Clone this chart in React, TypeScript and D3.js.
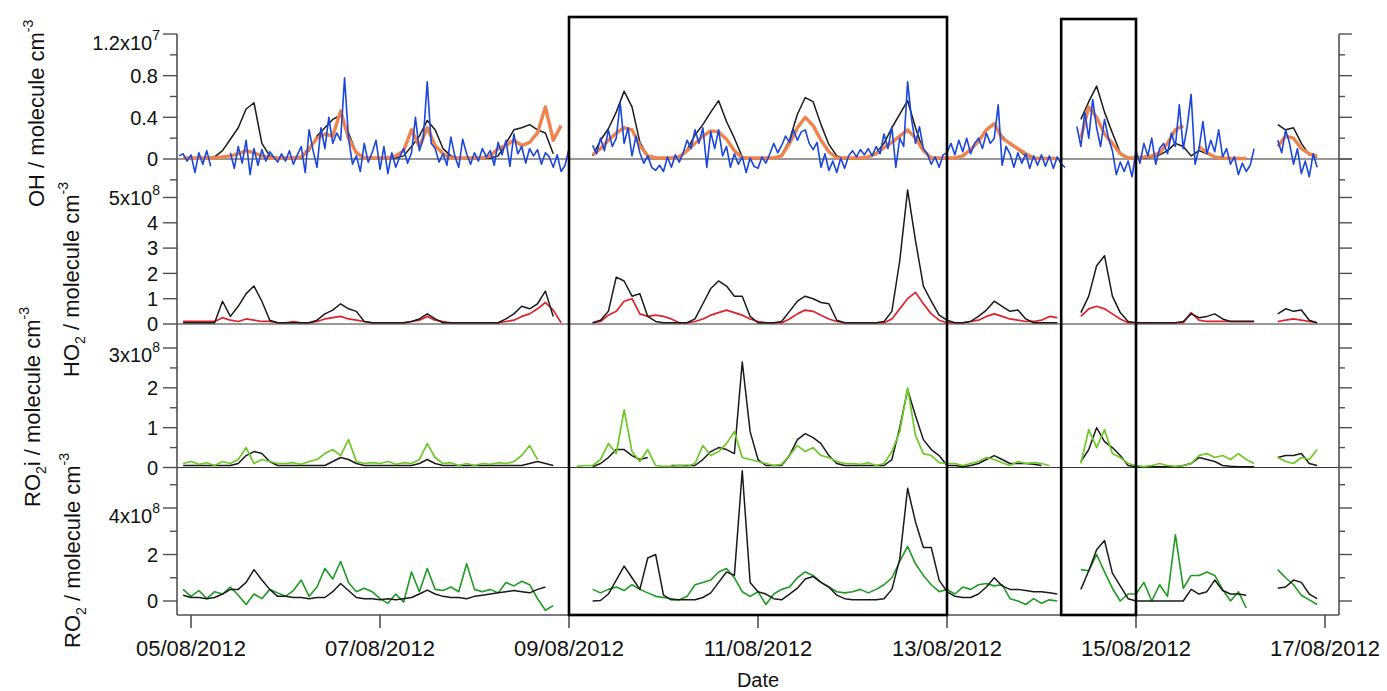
import * as d3 from "d3";

type Pt = { t: Date; v: number | null };

const HOUR = 3600 * 1000;
// first sample of the 2-hourly series and of the hourly blue OH series
const START_2H = Date.UTC(2012, 7, 4, 22);
const START_1H = Date.UTC(2012, 7, 4, 21);

const X_TICK_LABELS = ["05/08/2012", "07/08/2012", "09/08/2012", "11/08/2012", "13/08/2012", "15/08/2012", "17/08/2012"];
const BOX_SPANS = [
  ["09/08/2012 00:00", "13/08/2012 00:00"],
  ["14/08/2012 05:00", "15/08/2012 00:00"],
];

// OH, units of 1e6 molecule cm-3 (axis shows x10^7)
const OH_TICKS = [0, 4, 8, 12];
const OH_TICK_LABELS = ["0", "0.4", "0.8", "1.2"];
const OH_MINOR = [-2, 2, 6, 10];
const HO2_TICKS = [0, 1, 2, 3, 4, 5];
const HO2_TICK_LABELS = ["0", "1", "2", "3", "4", "5"];
const RO2I_TICKS = [0, 1, 2, 3];
const RO2I_TICK_LABELS = ["0", "1", "2", "3"];
const RO2I_MINOR = [0.5, 1.5, 2.5];
const RO2_TICKS = [0, 2, 4];
const RO2_TICK_LABELS = ["0", "2", "4"];
const RO2_MINOR = [1, 3, 5];

// 2-hourly, one row per day (05/08 ... 16/08)
const OH_BLACK = [
  0.1,
  0.1, 0.1, 0.1, 0.2, 0.8, 1.9, 3.0, 4.8, 5.4, 1.5, 0.3, 0.1,
  0.05, 0.05, 0.1, 0.8, 2.2, 3.0, 3.8, 4.2, 2.5, 0.6, 0.1, 0.05,
  0.05, 0.05, 0.1, 0.3, 1.2, 2.2, 3.7, 2.8, 1.0, 0.3, 0.1, 0.05,
  0.05, 0.05, 0.1, 0.3, 1.5, 2.8, 3.0, 3.3, 2.8, 2.5, 0.5, null,
  null, null, null, 0.3, 1.8, 2.9, 4.5, 6.5, 5.0, 1.6, 0.3, 0.1,
  0.05, 0.05, 0.2, 0.9, 2.3, 3.3, 4.5, 5.6, 3.6, 2.0, 0.2, 0.05,
  0.05, 0.05, 0.1, 0.4, 1.8, 4.3, 5.9, 5.5, 3.3, 1.4, 0.3, 0.05,
  0.05, 0.05, 0.2, 0.6, 1.5, 3.0, 4.3, 5.6, 3.0, 0.8, 0.1, 0.05,
  0.05, 0.1, 0.3, 0.9, 1.8, 2.8, 3.4, 2.2, 1.4, 0.9, 0.3, 0.1,
  0.05, 0.05, 0.05, null, null, 3.8, 5.5, 7.0, 4.5, 2.5, 0.6, 0.1,
  0.1, 0.1, 0.2, 0.4, 0.8, 1.5, 1.2, 0.3, 0.8, 0.5, 0.2, 0.1,
  0.1, 0.05, 0.05, null, null, null, 3.3, 2.8, 3.0, 1.5, 0.4, 0.2,
];
const OH_ORANGE = [
  0.1,
  0.1, 0.1, 0.1, 0.1, 0.2, 0.3, 0.5, 0.8, 0.6, 0.3, 0.1, 0.1,
  0.1, 0.1, 0.2, 1.0, 2.0, 2.4, 2.2, 4.6, 2.0, 0.6, 0.1, 0.1,
  0.1, 0.1, 0.3, 0.8, 2.8, 1.2, 3.0, 1.3, 0.5, 0.1, 0.1, 0.1,
  0.1, 0.1, 0.3, 1.0, 1.3, 1.8, 1.3, 1.6, 2.5, 5.0, 1.8, 3.2,
  null, null, null, 0.4, 1.0, 1.8, 2.5, 3.0, 2.8, 1.3, 0.3, 0.1,
  0.1, 0.1, 0.2, 0.8, 1.5, 2.2, 2.7, 2.6, 1.9, 0.8, 0.1, 0.1,
  0.1, 0.1, 0.1, 0.3, 1.5, 3.0, 4.0, 3.2, 1.8, 0.7, 0.1, 0.1,
  0.1, 0.1, 0.2, 0.5, 1.1, 1.6, 2.2, 2.8, 2.0, 0.8, 0.1, 0.1,
  0.1, 0.1, 0.3, 0.9, 1.7, 2.8, 3.4, 2.0, 1.5, 1.0, 0.5, 0.1,
  0.05, 0.05, 0.05, null, null, 2.0, 5.0, 4.0, 2.4, 1.5, 0.5, 0.1,
  0.1, 0.2, 0.3, 0.6, 1.5, 2.8, 3.2, null, 1.2, 0.6, 0.2, 0.1,
  0.05, 0.05, 0.05, null, null, null, 1.2, 2.2, 2.0, 1.0, 0.5, 0.3,
];
// hourly, starting 04/08 21:00
const OH_BLUE = [
  0.3, 0.5, -0.2,
  0.4, -1.3, 0.6, -0.5, 0.8, -0.7, null, null, null, null, 0.6, -0.9, 1.2, -0.4, 1.8, -1.5, 1.0, -0.6, 0.9, -0.2, 0.7, 0.2, -0.3, 0.5,
  -0.2, 0.8, -0.5, 0.4, 1.2, -1.3, 2.8, 0.8, -0.8, 3.0, 1.0, 4.0, 1.5, 2.5, 1.8, 7.8, 2.0, -0.5, 0.3, -1.2, 1.5, -0.3, 0.6, 1.8,
  -1.0, 1.2, -1.4, 0.6, -0.8, 0.2, 1.0, -0.4, 0.6, 4.0, 0.8, 2.0, 7.4, 1.5, 1.0, -0.3, 0.5, -0.6, 2.1, 0.3, -0.8, 1.9, 0.5, -0.5,
  0.6, -0.2, 1.0, 0.2, 0.8, -0.6, 1.6, 0.4, 1.8, -0.7, 2.4, 0.5, 1.2, -0.4, 1.0, 0.3, 0.9, -0.5, 0.6, 0.2, -0.8, 0.4, -1.2, -0.6,
  1.0, null, null, null, null, null, 1.3, 0.5, 2.0, 0.8, 2.8, 1.2, 2.0, 5.4, 1.5, 3.0, 0.3, 2.2, 0.6, -0.4, 0.3, -0.8, -1.1, -0.6,
  -1.2, 0.2, -0.8, 0.4, -0.3, 0.6, 1.8, 1.0, 2.8, 1.5, 3.0, -0.8, 2.6, 1.0, 2.8, 0.3, 1.2, -0.8, 0.5, -0.5, 0.2, -1.3, 0.1, -0.7,
  -0.9, 0.2, -0.4, 0.5, 1.5, 0.6, 1.3, 2.2, 1.6, 2.8, 1.8, 2.6, 2.8, 1.5, 0.9, 1.6, -0.8, 0.5, -1.1, -0.2, -1.3, 0.1, -0.9, 0.3,
  0.8, 0.2, 0.9, 0.4, 1.0, 0.3, 1.2, 0.5, 2.4, 1.0, 3.1, -0.8, 2.0, 1.2, 7.4, 3.8, 1.5, 3.1, 1.0, 0.5, -0.5, 0.2, -0.8, 0.4,
  0.6, 1.5, 0.4, 1.8, 0.7, 2.0, 0.5, 1.5, 2.0, 1.0, 2.5, 1.5, 2.0, 5.2, -0.6, 1.2, 0.5, -0.8, 0.6, -0.4, 0.5, -0.9, 0.3, -0.6,
  0.4, -0.7, 0.3, -0.9, 0.2, -0.5, -0.8, null, null, 3.1, 1.2, 4.5, 2.0, 5.7, 3.0, 1.2, 3.8, 2.0, 0.8, -1.5, -0.3, -1.2, -0.2, -1.7,
  0.8, -0.4, 1.5, 0.3, 2.0, -0.5, 1.0, 1.5, 0.5, 2.5, 1.2, 5.2, 1.0, 3.1, 6.2, -0.5, 1.0, 3.6, 0.5, 1.8, 0.7, 2.8, 0.2, 1.0,
  -0.5, 0.2, -1.5, -0.4, -1.2, -0.6, 1.0, null, null, null, null, null, 1.8, 0.6, 2.8, 1.5, -0.5, 1.0, -1.4, -0.2, -1.7, 0.5, -0.8,
];

// HO2, units of 1e8
const HO2_BLACK = [
  0.05,
  0.05, 0.05, 0.05, 0.05, 0.9, 0.3, 0.7, 1.2, 1.5, 0.9, 0.15, 0.05,
  0.05, 0.05, 0.05, 0.05, 0.15, 0.4, 0.55, 0.8, 0.6, 0.5, 0.1, 0.05,
  0.05, 0.05, 0.05, 0.05, 0.1, 0.2, 0.4, 0.2, 0.05, 0.05, 0.05, 0.05,
  0.05, 0.05, 0.05, 0.05, 0.2, 0.4, 0.7, 0.6, 0.8, 1.3, 0.3, null,
  null, null, null, 0.05, 0.15, 0.5, 1.85, 1.7, 1.1, 1.2, 0.3, 0.1,
  0.05, 0.05, 0.05, 0.05, 0.2, 0.8, 1.4, 1.7, 1.5, 1.1, 1.1, 0.3,
  0.05, 0.05, 0.05, 0.1, 0.5, 0.9, 1.1, 1.0, 0.85, 0.8, 0.15, 0.05,
  0.05, 0.05, 0.05, 0.05, 0.1, 0.5, 2.5, 5.3, 3.3, 1.5, 0.9, 0.35,
  0.15, 0.05, 0.05, 0.1, 0.3, 0.55, 0.9, 0.7, 0.5, 0.55, 0.2, 0.05,
  0.05, 0.05, 0.05, null, null, 0.45, 1.1, 2.3, 2.7, 1.1, 0.45, 0.1,
  0.05, 0.05, 0.05, 0.05, 0.05, 0.05, 0.1, 0.4, 0.25, 0.3, 0.4, 0.2,
  0.1, 0.1, 0.1, 0.1, null, null, 0.4, 0.6, 0.5, 0.55, 0.15, 0.05,
];
const HO2_RED = [
  0.1,
  0.1, 0.1, 0.1, 0.1, 0.25, 0.15, 0.1, 0.2, 0.15, 0.1, 0.1, 0.05,
  0.05, 0.1, 0.05, 0.05, 0.1, 0.2, 0.25, 0.3, 0.2, 0.15, 0.1, 0.05,
  0.05, 0.05, 0.05, 0.05, 0.1, 0.15, 0.3, 0.15, 0.1, 0.05, 0.05, 0.05,
  0.05, 0.05, 0.05, 0.05, 0.1, 0.15, 0.3, 0.4, 0.6, 0.85, 0.55, 0.05,
  null, null, null, 0.05, 0.1, 0.35, 0.5, 0.9, 1.0, 0.4, 0.3, 0.35,
  0.3, 0.2, 0.05, 0.05, 0.1, 0.2, 0.35, 0.45, 0.55, 0.45, 0.35, 0.2,
  0.1, 0.05, 0.05, 0.05, 0.2, 0.4, 0.55, 0.5, 0.35, 0.2, 0.1, 0.05,
  0.05, 0.05, 0.05, 0.05, 0.05, 0.2, 0.6, 1.0, 1.25, 0.8, 0.4, 0.15,
  0.05, 0.05, 0.05, 0.1, 0.15, 0.3, 0.4, 0.3, 0.2, 0.15, 0.1, 0.1,
  0.15, 0.3, 0.25, null, null, 0.3, 0.6, 0.7, 0.6, 0.4, 0.2, 0.05,
  0.05, 0.05, 0.05, 0.05, 0.05, 0.05, 0.05, 0.45, 0.15, 0.1, 0.1, 0.1,
  0.1, 0.1, 0.1, 0.1, null, null, 0.1, 0.15, 0.2, 0.15, 0.1, 0.05,
];

// RO2i, units of 1e8
const RO2I_BLACK = [
  0.05,
  0.05, 0.05, 0.05, 0.05, 0.05, 0.05, 0.1, 0.3, 0.4, 0.35, 0.15, 0.05,
  0.05, 0.05, 0.05, 0.05, 0.05, 0.05, 0.15, 0.25, 0.2, 0.1, 0.05, 0.05,
  0.05, 0.05, 0.05, 0.05, 0.05, 0.1, 0.2, 0.1, 0.05, 0.05, 0.05, 0.05,
  0.05, 0.05, 0.05, 0.05, 0.05, 0.05, 0.05, 0.1, 0.15, 0.1, 0.05, null,
  null, null, null, 0.02, 0.1, 0.25, 0.45, 0.45, 0.3, 0.2, 0.25, null,
  null, 0.05, 0.05, 0.05, 0.05, 0.2, 0.4, 0.5, 0.45, 0.35, 2.65, 0.9,
  0.2, 0.05, 0.05, 0.05, 0.3, 0.7, 0.85, 0.75, 0.6, 0.3, 0.1, 0.05,
  0.05, 0.05, 0.05, 0.05, 0.05, 0.2, 1.0, 1.95, 1.3, 0.7, 0.45, 0.3,
  0.05, 0.05, 0.02, 0.05, 0.1, 0.2, 0.3, 0.2, 0.1, 0.1, 0.1, 0.08,
  0.05, null, null, null, null, 0.15, 0.45, 1.0, 0.65, 0.5, 0.3, 0.05,
  0.02, 0.02, 0.02, 0.02, 0.02, 0.02, 0.05, 0.1, 0.25, 0.2, 0.15, 0.05,
  0.03, 0.02, 0.02, 0.02, null, null, 0.25, 0.3, 0.3, 0.35, 0.1, 0.05,
];
const RO2I_GREEN = [
  0.1,
  0.15, 0.08, 0.12, 0.05, 0.15, 0.1, 0.2, 0.5, 0.1, 0.2, 0.15, 0.1,
  0.1, 0.12, 0.08, 0.15, 0.2, 0.35, 0.45, 0.3, 0.7, 0.15, 0.1, 0.12,
  0.1, 0.15, 0.08, 0.12, 0.1, 0.2, 0.6, 0.25, 0.1, 0.12, 0.05, 0.1,
  0.05, 0.1, 0.08, 0.12, 0.1, 0.15, 0.3, 0.55, 0.2, null, null, null,
  null, 0.03, 0.05, 0.05, 0.2, 0.6, 0.35, 1.45, 0.4, 0.15, 0.45, 0.05,
  0.03, 0.03, 0.05, 0.03, 0.1, 0.55, 0.3, 0.4, 0.6, 0.9, 0.25, 0.2,
  0.15, 0.1, 0.05, 0.08, 0.3, 0.55, 0.4, 0.5, 0.3, 0.25, 0.15, 0.1,
  0.1, 0.08, 0.12, 0.05, 0.1, 0.4, 0.9, 2.0, 0.8, 0.35, 0.3, 0.12,
  0.1, 0.1, 0.05, 0.1, 0.15, 0.25, 0.2, 0.12, 0.05, 0.15, 0.1, 0.12,
  0.1, 0.05, null, null, null, 0.1, 0.95, 0.5, 0.95, 0.35, 0.25, 0.1,
  0.05, 0.02, 0.05, 0.1, 0.05, 0.03, 0.05, 0.1, 0.3, 0.35, 0.25, 0.3,
  0.2, 0.35, 0.2, 0.1, null, null, 0.25, 0.15, 0.1, 0.25, 0.2, 0.45,
];

// RO2, units of 1e8
const RO2_BLACK = [
  0.25,
  0.15, 0.15, 0.1, 0.15, 0.3, 0.5, 0.5, 0.8, 1.35, 0.9, 0.5, 0.2,
  0.2, 0.15, 0.15, 0.1, 0.15, 0.15, 0.4, 0.75, 0.45, 0.15, 0.1, 0.1,
  0.05, 0.1, 0.05, 0.1, 0.15, 0.3, 0.47, 0.3, 0.2, 0.15, 0.15, 0.1,
  0.2, 0.25, 0.3, 0.35, 0.4, 0.45, 0.4, 0.35, 0.5, 0.6, null, null,
  null, null, null, 0.0, 0.02, 0.3, 0.9, 1.5, 1.0, 0.5, 1.85, 2.0,
  0.25, 0.05, 0.05, 0.05, 0.05, 0.15, 0.35, 0.8, 1.25, 1.1, 5.6, 0.8,
  0.4, 0.3, 0.1, 0.05, 0.3, 0.55, 0.95, 1.05, 0.8, 0.6, 0.25, 0.1,
  0.05, 0.05, 0.05, 0.05, 0.1, 0.5, 1.8, 4.85, 3.4, 2.3, 2.3, 0.9,
  0.4, 0.2, 0.15, 0.15, 0.3, 0.6, 1.0, 0.65, 0.5, 0.5, 0.45, 0.4,
  0.4, 0.35, 0.3, null, null, 0.5, 1.3, 2.2, 2.6, 1.2, 0.65, 0.1,
  0.0, 0.0, 0.0, 0.0, 0.0, 0.0, 0.0, 0.5, 0.3, 0.4, 0.9, 0.45,
  0.3, 0.3, 0.25, null, null, null, 0.55, 0.6, 0.9, 0.8, 0.3, 0.1,
];
const RO2_GREEN = [
  0.5,
  0.2, 0.45, 0.1, 0.4, 0.3, 0.6, 0.25, -0.15, 0.3, 0.1, 0.5, 0.35,
  0.2, 0.45, 0.9, 0.2, 0.6, 1.4, 0.95, 1.7, 0.8, 0.4, 0.55, 0.4,
  0.1, -0.1, 0.3, -0.05, 1.25, 0.4, 1.4, 0.5, 0.45, 0.6, 0.4, 1.6,
  0.5, 0.4, 0.5, 0.35, 0.8, 0.65, 0.85, 0.7, 0.1, -0.4, -0.2, null,
  null, null, null, 0.5, 0.35, 0.5, 0.6, 0.45, 0.7, 0.5, 0.35, 0.2,
  0.15, 0.1, 0.05, 0.2, 0.7, 0.8, 0.9, 1.25, 1.4, 1.0, 0.4, 0.2,
  0.4, -0.15, 0.3, 0.5, 0.6, 1.0, 1.25, 1.1, 0.8, 0.6, 0.4, 0.35,
  0.4, 0.5, 0.35, 0.5, 0.7, 1.0, 1.7, 2.35, 1.6, 1.1, 0.7, 0.4,
  0.5, 0.3, 0.6, 0.5, 0.7, 0.75, 0.65, 0.7, 0.1, 0.0, -0.15, 0.1,
  -0.1, 0.05, 0.0, null, null, 1.35, 1.3, 2.0, 1.25, 0.55, 0.0, 0.3,
  0.3, 0.8, 0.0, 0.7, 0.2, 2.85, 0.55, 1.1, 1.1, 1.25, 1.1, 0.5,
  0.0, 0.4, -0.3, null, null, null, 1.35, 1.0, 0.7, 0.25, 0.05, -0.15,
];

const toPoints = (vals: (number | null)[], start: number, stepH: number): Pt[] =>
  vals.map((v, i) => ({ t: new Date(start + i * stepH * HOUR), v }));

const FONT = "'Liberation Sans', Arial, Helvetica, sans-serif";
const AXIS = "#505050";
const LEFT = 177;
const RIGHT = 1339;
const BOTTOM = 615;

const parseDay = d3.utcParse("%d/%m/%Y");
const parseTime = d3.utcParse("%d/%m/%Y %H:%M");

export default function App() {
  const tickDates = X_TICK_LABELS.map((s) => parseDay(s) as Date);
  const x = d3.scaleUtc().domain([tickDates[0], tickDates[tickDates.length - 1]]).range([191, 1325]);

  const yOH = d3.scaleLinear().domain([0, 12]).range([159, 34]);
  const yHO2 = d3.scaleLinear().domain([0, 5]).range([324, 197.5]);
  const yRI = d3.scaleLinear().domain([0, 3]).range([467.5, 348]);
  const yRO2 = d3.scaleLinear().domain([0, 4]).range([601, 508]);

  const path = (vals: (number | null)[], y: d3.ScaleLinear<number, number>, start = START_2H, step = 2) =>
    d3
      .line<Pt>()
      .defined((p) => p.v != null)
      .x((p) => x(p.t))
      .y((p) => y(p.v as number))(toPoints(vals, start, step)) || "";

  // topShift: the exponent label sits a little below its tick, as in the original
  const panels = [
    { y: yOH, ticks: OH_TICKS, labels: OH_TICK_LABELS, minor: OH_MINOR, exp: "7", zero: true, topShift: 9 },
    { y: yHO2, ticks: HO2_TICKS, labels: HO2_TICK_LABELS, minor: [] as number[], exp: "8", zero: true, topShift: 0 },
    { y: yRI, ticks: RO2I_TICKS, labels: RO2I_TICK_LABELS, minor: RO2I_MINOR, exp: "8", zero: true, topShift: 7 },
    { y: yRO2, ticks: RO2_TICKS, labels: RO2_TICK_LABELS, minor: RO2_MINOR, exp: "8", zero: false, topShift: 8 },
  ];

  const series = [
    { d: path(HO2_RED, yHO2), c: "#e0202a", w: 1.7 },
    { d: path(HO2_BLACK, yHO2), c: "#1a1a1a", w: 1.5 },
    { d: path(RO2I_BLACK, yRI), c: "#1a1a1a", w: 1.5 },
    { d: path(RO2I_GREEN, yRI), c: "#6cc924", w: 1.7 },
    { d: path(RO2_GREEN, yRO2), c: "#1f9a22", w: 1.6 },
    { d: path(RO2_BLACK, yRO2), c: "#1a1a1a", w: 1.5 },
    { d: path(OH_BLACK, yOH), c: "#1a1a1a", w: 1.5 },
    { d: path(OH_ORANGE, yOH), c: "#f0834c", w: 3.4 },
    { d: path(OH_BLUE, yOH, START_1H, 1), c: "#1a46dc", w: 1.6 },
  ];

  const titles = [
    { x: 44, y: 207, main: "OH", sub: "", rest: " / molecule cm" },
    { x: 79, y: 377, main: "HO", sub: "2", rest: " / molecule cm" },
    { x: 40, y: 507, main: "RO", sub: "2", rest: "i / molecule cm" },
    { x: 80, y: 648, main: "RO", sub: "2", rest: " / molecule cm" },
  ];

  return (
    <svg
      width={1387}
      height={691}
      style={{ position: "absolute", left: 0, top: 0, display: "block", background: "#fff" }}
      fontFamily={FONT}
    >
      {/* zero lines */}
      {panels.filter((p) => p.zero).map((p, i) => (
        <line key={"z" + i} x1={LEFT} x2={RIGHT + 13} y1={p.y(0)} y2={p.y(0)} stroke="#333" strokeWidth={1.2} />
      ))}

      {/* data */}
      {series.map((s, i) => (
        <path key={"s" + i} d={s.d} fill="none" stroke={s.c} strokeWidth={s.w} strokeLinejoin="round" />
      ))}

      {/* frame */}
      <line x1={LEFT} x2={LEFT} y1={yOH(12)} y2={BOTTOM} stroke={AXIS} strokeWidth={1.6} />
      <line x1={RIGHT} x2={RIGHT} y1={yOH(12)} y2={BOTTOM} stroke={AXIS} strokeWidth={1.6} />
      <line x1={LEFT} x2={RIGHT} y1={BOTTOM} y2={BOTTOM} stroke={AXIS} strokeWidth={1.6} />

      {/* y ticks, both sides */}
      {panels.map((p, i) => (
        <g key={"p" + i}>
          {p.ticks.map((v) => (
            <g key={"M" + v}>
              <line x1={LEFT - 14} x2={LEFT} y1={p.y(v)} y2={p.y(v)} stroke={AXIS} strokeWidth={1.4} />
              <line x1={RIGHT} x2={RIGHT + 13} y1={p.y(v)} y2={p.y(v)} stroke={AXIS} strokeWidth={1.4} />
            </g>
          ))}
          {p.minor.map((v) => (
            <g key={"m" + v}>
              <line x1={LEFT - 7} x2={LEFT} y1={p.y(v)} y2={p.y(v)} stroke={AXIS} strokeWidth={1.4} />
              <line x1={RIGHT} x2={RIGHT + 6} y1={p.y(v)} y2={p.y(v)} stroke={AXIS} strokeWidth={1.4} />
            </g>
          ))}
          {p.ticks.map((v, j) => {
            const top = j === p.ticks.length - 1;
            return (
              <text
                key={"l" + v}
                x={top ? 160 : 158}
                y={p.y(v) + (top ? p.topShift : 0)}
                dy="0.36em"
                textAnchor="end"
                fontSize={20}
                fill="#111"
              >
                {p.labels[j]}
                {top ? "x10" : ""}
                {top ? (
                  <tspan fontSize={14} dy={-10}>
                    {p.exp}
                  </tspan>
                ) : null}
              </text>
            );
          })}
        </g>
      ))}

      {/* x axis */}
      {tickDates.map((d, i) => (
        <g key={"x" + i}>
          <line x1={x(d)} x2={x(d)} y1={BOTTOM} y2={BOTTOM + 13} stroke={AXIS} strokeWidth={1.6} />
          <text x={x(d)} y={656} textAnchor="middle" fontSize={22} fill="#111">
            {X_TICK_LABELS[i]}
          </text>
        </g>
      ))}
      <text x={(LEFT + RIGHT) / 2} y={687} textAnchor="middle" fontSize={20} fill="#111">
        Date
      </text>

      {/* y titles */}
      {titles.map((t, i) => (
        <text key={"t" + i} transform={`translate(${t.x},${t.y}) rotate(-90)`} fontSize={22} fill="#111">
          {t.main}
          {t.sub ? (
            <tspan fontSize={14} dy={6}>
              {t.sub}
            </tspan>
          ) : null}
          <tspan dy={t.sub ? -6 : 0}>{t.rest}</tspan>
          <tspan fontSize={14} dy={-11}>
            -3
          </tspan>
        </text>
      ))}

      {/* highlight boxes */}
      {BOX_SPANS.map(([a, b], i) => {
        const x0 = x(parseTime(a) as Date);
        const x1 = x(parseTime(b) as Date);
        const top = i === 0 ? 17 : 19;
        return <rect key={"b" + i} x={x0} y={top} width={x1 - x0} height={BOTTOM - top} fill="none" stroke="#000" strokeWidth={2.6} />;
      })}
    </svg>
  );
}
